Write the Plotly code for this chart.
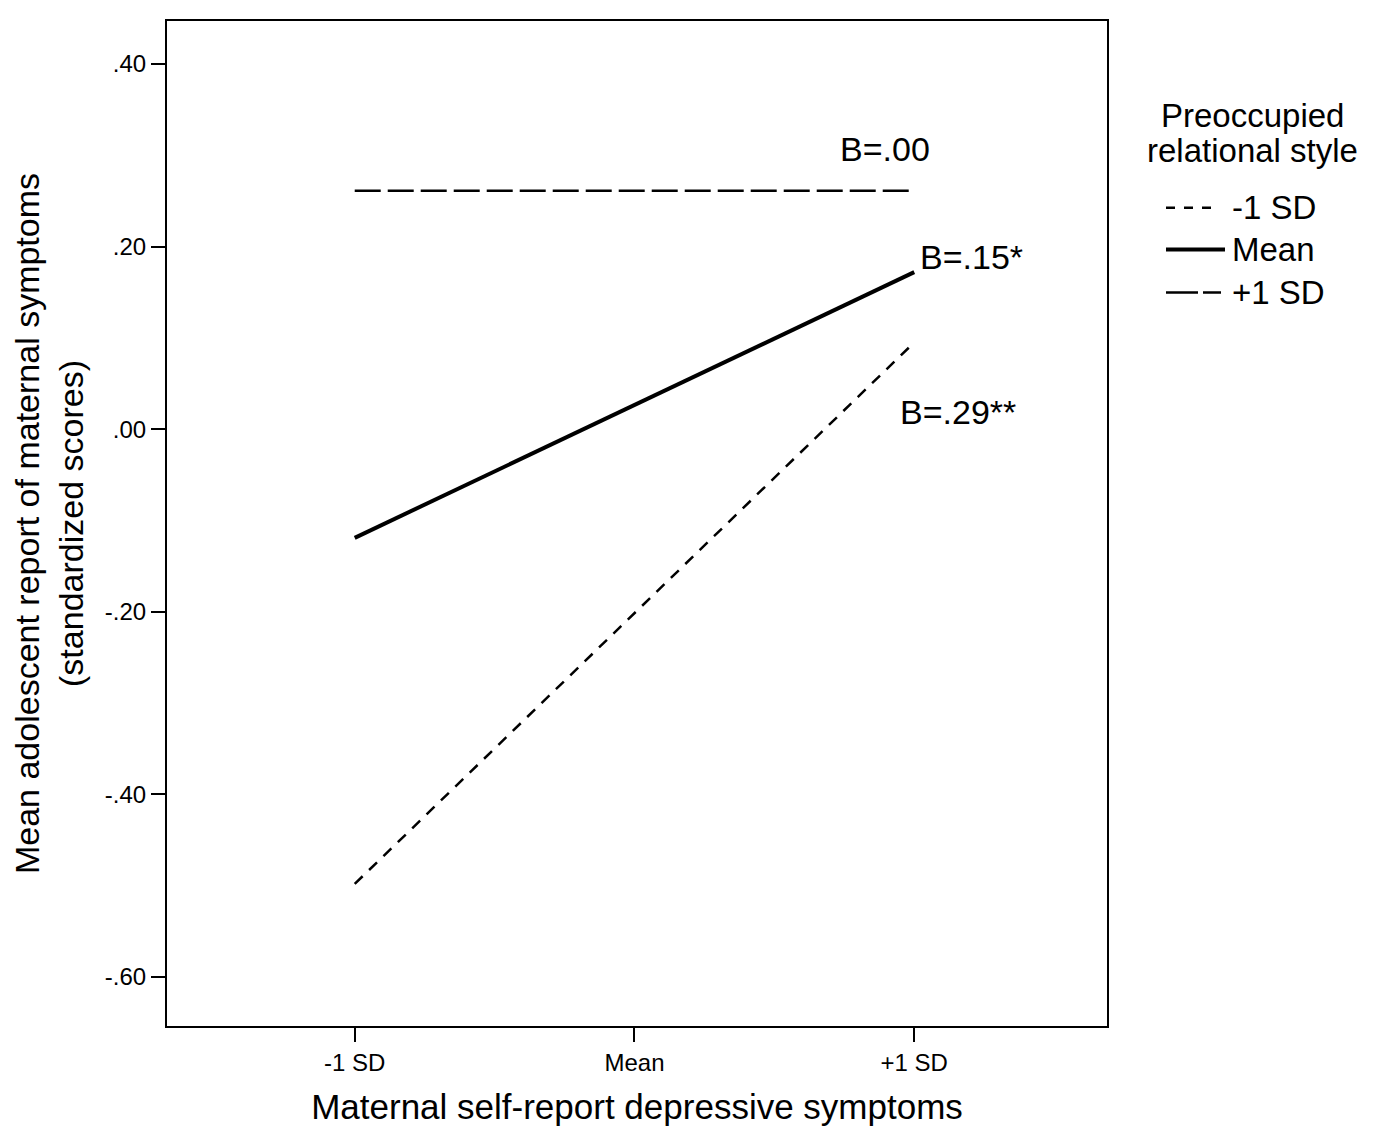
import plotly.graph_objects as go

x_labels = ["-1 SD", "Mean", "+1 SD"]
x_pos = [0, 1, 2]
series_names = ["-1 SD", "Mean", "+1 SD"]
low_sd = [-0.498, None, 0.095]
mean_vals = [-0.119, None, 0.172]
high_sd = [0.261, None, 0.261]
y_ticks = [0.40, 0.20, 0.00, -0.20, -0.40, -0.60]
y_tick_text = [".40", ".20", ".00", "-.20", "-.40", "-.60"]
annot_text = ["B=.00", "B=.15*", "B=.29**"]
legend_title = ["Preoccupied", "relational style"]

FONT = "Liberation Sans, Arial, sans-serif"

def pts(vals):
    xs = [x for x, v in zip(x_pos, vals) if v is not None]
    ys = [v for v in vals if v is not None]
    return xs, ys

fig = go.Figure()
styles = [
    (low_sd, "11px,9px", 2.5),
    (mean_vals, "solid", 4),
    (high_sd, "26px,7px", 2.5),
]
for name, (vals, dash, w) in zip(series_names, styles):
    xs, ys = pts(vals)
    fig.add_trace(go.Scatter(x=xs, y=ys, mode="lines", name=name, showlegend=False,
                             line=dict(color="black", width=w, dash=dash)))

fs_ann = 34
fig.add_annotation(x=1.896, y=0.307, text=annot_text[0], showarrow=False,
                   xanchor="center", yanchor="middle", font=dict(size=fs_ann, color="black", family=FONT))
fig.add_annotation(x=2.014, y=0.189, text=annot_text[1], showarrow=False,
                   xanchor="left", yanchor="middle", font=dict(size=fs_ann, color="black", family=FONT))
fig.add_annotation(x=1.943, y=0.0186, text=annot_text[2], showarrow=False,
                   xanchor="left", yanchor="middle", font=dict(size=fs_ann, color="black", family=FONT))

# manual legend (paper coordinates)
fig.add_annotation(x=1.1553, y=(1025 - 113) / 1007, xref="paper", yref="paper", text=legend_title[0],
                   showarrow=False, xanchor="center", yanchor="middle", font=dict(size=33, family=FONT, color="black"))
fig.add_annotation(x=1.1553, y=(1025 - 148) / 1007, xref="paper", yref="paper", text=legend_title[1],
                   showarrow=False, xanchor="center", yanchor="middle", font=dict(size=33, family=FONT, color="black"))
leg_y = [205, 247, 290]
leg_x1 = [1212, 1224, 1220]
leg_dash = ["9px,9px", "solid", "32px,5px"]
for name, (vals, dash, w), yy, x1, ld in zip(series_names, styles, leg_y, leg_x1, leg_dash):
    py = (1025 - yy) / 1007
    fig.add_shape(type="line", xref="paper", yref="paper", x0=(1165 - 166) / 940, x1=(x1 - 166) / 940,
                  y0=py, y1=py, line=dict(color="black", width=w, dash=ld))
    fig.add_annotation(x=(1229 - 166) / 940, y=py, xref="paper", yref="paper", text=name, showarrow=False,
                       xanchor="left", yanchor="middle", font=dict(size=33, family=FONT, color="black"))

fig.update_layout(
    width=1378, height=1136,
    margin=dict(l=159, r=279, t=11, b=118),
    plot_bgcolor="white", paper_bgcolor="white",
    font=dict(family=FONT, color="black"),
    showlegend=False,
    xaxis=dict(
        range=[-0.671, 2.689], tickvals=x_pos, ticktext=x_labels,
        ticks="outside", ticklen=14, tickwidth=2, tickcolor="black",
        showline=True, linecolor="black", linewidth=2, mirror=True,
        showgrid=False, zeroline=False,
        tickfont=dict(size=24, family=FONT),
        title=dict(text="Maternal self-report depressive symptoms", font=dict(size=35, family=FONT), standoff=20),
    ),
    yaxis=dict(
        range=[-0.6536, 0.447], tickvals=y_ticks, ticktext=y_tick_text,
        ticks="outside", ticklen=14, tickwidth=2, tickcolor="black",
        showline=True, linecolor="black", linewidth=2, mirror=True,
        showgrid=False, zeroline=False,
        tickfont=dict(size=24, family=FONT),
        title=dict(text="Mean adolescent report of maternal symptoms<br>(standardized scores)", font=dict(size=34, family=FONT), standoff=18),
    ),
)

fig.write_html("out.html")
